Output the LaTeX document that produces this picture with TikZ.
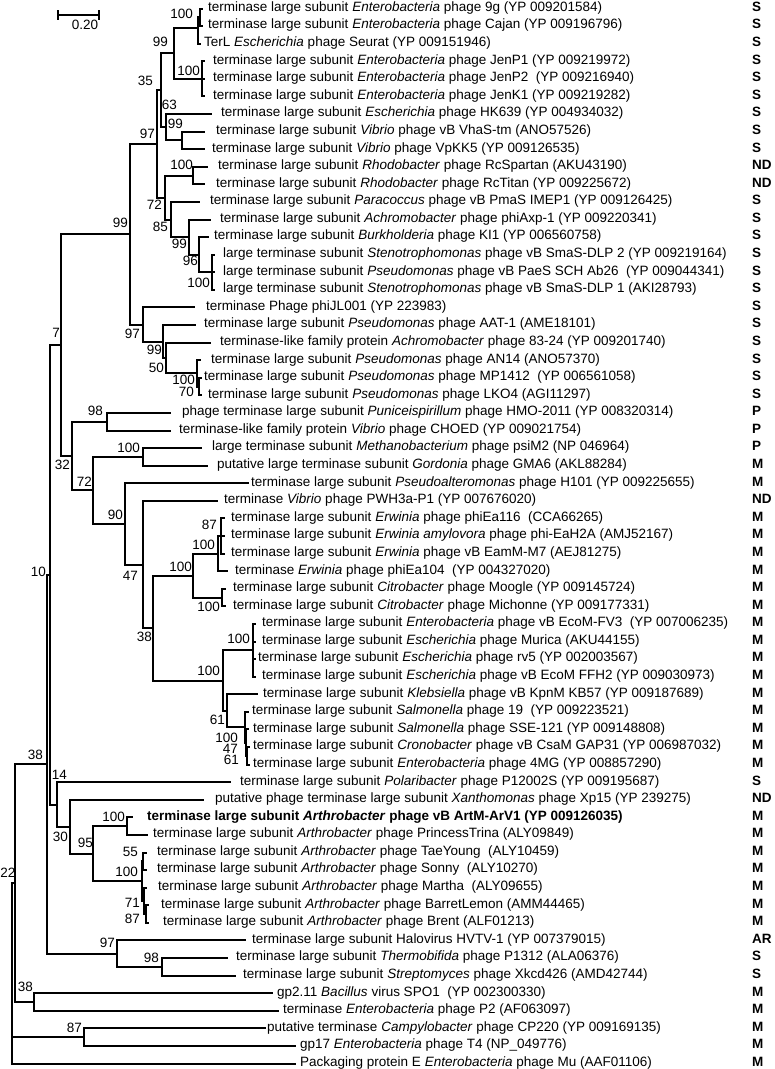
\documentclass[tikz,border=0pt]{standalone}
\usepackage{fontspec}
\setmainfont{Liberation Sans}
\newcommand\treefont{\fontsize{13.5}{16}\selectfont}
\begin{document}
\begin{tikzpicture}[x=1pt,y=-1pt,
  br/.style={line width=2pt,line cap=rect},
  lf/.style={anchor=base west,inner sep=0pt,yshift=-2.8pt,font=\treefont},
  cl/.style={anchor=base west,inner sep=0pt,yshift=-2.8pt,font=\treefont\bfseries},
  bs/.style={anchor=base east,inner sep=0pt,yshift=-4.8pt,font=\treefont}]
\useasboundingbox (0,0) rectangle (775,1069);
% scale bar
\coordinate (sbA) at (58,15);
\coordinate (sbB) at (99,15);
\draw[br] (sbA) -- (sbB);
\draw[br] ([yshift=4pt]sbA) -- ([yshift=-4pt]sbA);
\draw[br] ([yshift=4pt]sbB) -- ([yshift=-4pt]sbB);
\node[font=\treefont,inner sep=0pt,anchor=base,yshift=-4.8pt] (sbl) at (85,25) {0.20};
% leaf tips
\foreach \n/\x/\y in {1/202/8.5,2/202/26.1,3/199.5/43.7,4/204/61.2,5/204/78.8,6/204/96.4,7/211/114.0,8/204/131.6,9/204/149.2,10/207/166.7,11/204/184.3,12/199/201.9,13/210/219.5,14/208/237.1,15/214/254.7,16/214/272.2,17/214/289.8,18/194/307.4,19/195/325.0,20/210/342.6,21/199.5/360.2,22/200.5/377.7,23/200.5/395.3,24/170/412.9,25/170/430.5,26/201/448.1,27/207/465.7,28/248/483.2,29/217/500.8,30/224/518.4}
  \coordinate (L\n) at (\x,\y);
\foreach \n/\x/\y in {31/224/536.0,32/224/553.6,33/227/571.2,34/225/588.7,35/225/606.3,36/255/623.9,37/255/641.5,38/255/659.1,39/255/676.7,40/257/694.2,41/248/711.8,42/248/729.4,43/249/747.0,44/249/764.6,45/230/782.2,46/203/799.7,47/132/817.3,48/147/834.9,49/145.5/852.5,50/145.5/870.1,51/145.5/887.7,52/148/905.2,53/148/922.8,54/245/940.4,55/227/958.0,56/235/975.6,57/272/993.2,58/278/1010.7,59/265/1028.3,60/295/1045.9,61/295/1063.5}
  \coordinate (L\n) at (\x,\y);
% internal nodes
\foreach \n/\x/\y in {a1/199.5/17.3,a2/197.5/27.5,a3/202/78.8,a4/174/53.2,a5/182/140.4,a6/166/127.2,a7/161/90.2,a8/193/175.5,a9/212/272.2,a10/199/254.7,a11/189/237.1,a12/171/219.5,a13/164.5/197.5,a14/157/143.9,
  b1/198.5/386.5,b2/197/373.4,b3/166/358.0,b4/163/341.5,b5/143/324.5,b6/130/234.2,c1/107/421.7,c2/143/456.9,
  d1/221/536.0,d2/218/553.6,d3/222/597.5,d4/193/575.6,d5/253/650.3,d6/247/755.8,d7/246/742.6,d8/245/727.2,d9/227/710.7,d10/223/680.5,d11/153/628.1,d12/143/564.5,d13/125/523.9,d14/93/490.4,d15/72/456.1,d16/61/345.2,
  e1/127/826.1,e2/143/861.3,e3/146/914.0,e4/143.5/900.9,e5/141.5/881.1,e6/93/853.6,e7/70/826.7,e8/57/804.5,e9/50/574.9,
  f1/162/966.8,f2/117/953.6,g1/47/764.3,g2/34/1002.0,g3/15/883.2,g4/84/1037.1,r/12/883.2}
  \coordinate (\n) at (\x,\y);
% branches
\foreach \p/\c in {a1/L1,a1/L2,a2/a1,a2/L3,a3/L4,a3/L5,a3/L6,a4/a2,a4/a3,a5/L8,a5/L9,a6/L7,a6/a5,a7/a4,a7/a6,a8/L10,a8/L11,a9/L15,a9/L16,a9/L17,a10/L14,a10/a9,a11/L13,a11/a10,a12/L12,a12/a11,a13/a8,a13/a12,a14/a7,a14/a13}
  \draw[br] (\p) |- (\c);
\foreach \p/\c in {b1/L22,b1/L23,b2/L21,b2/b1,b3/L20,b3/b2,b4/L19,b4/b3,b5/L18,b5/b4,b6/a14,b6/b5,c1/L24,c1/L25,c2/L26,c2/L27}
  \draw[br] (\p) |- (\c);
\foreach \p/\c in {d1/L30,d1/L31,d1/L32,d2/d1,d2/L33,d3/L34,d3/L35,d4/d2,d4/d3,d5/L36,d5/L37,d5/L38,d5/L39,d6/L43,d6/L44,d7/L42,d7/d6,d8/L41,d8/d7,d9/L40,d9/d8,d10/d5,d10/d9,d11/d4,d11/d10,d12/L29,d12/d11,d13/L28,d13/d12,d14/c2,d14/d13,d15/c1,d15/d14,d16/b6,d16/d15}
  \draw[br] (\p) |- (\c);
\foreach \p/\c in {e1/L47,e1/L48,e2/L49,e2/L50,e3/L52,e3/L53,e4/L51,e4/e3,e5/e2,e5/e4,e6/e1,e6/e5,e7/L46,e7/e6,e8/L45,e8/e7,e9/d16,e9/e8,f1/L55,f1/L56,f2/L54,f2/f1,g1/e9,g1/f2,g2/L57,g2/L58,g3/g1,g3/g2,g4/L59,g4/L60,r/g3,r/g4,r/L61}
  \draw[br] (\p) |- (\c);
% leaf labels
\node[lf] (t1) at (208,8.5) {terminase large subunit \textit{Enterobacteria} phage 9g (YP 009201584)};
\node[lf] (t2) at (208,26.1) {terminase large subunit \textit{Enterobacteria} phage Cajan (YP 009196796)};
\node[lf] (t3) at (204,43.7) {TerL \textit{Escherichia} phage Seurat (YP 009151946)};
\node[lf] (t4) at (213,61.2) {terminase large subunit \textit{Enterobacteria} phage JenP1 (YP 009219972)};
\node[lf] (t5) at (213,78.8) {terminase large subunit \textit{Enterobacteria} phage JenP2~ (YP 009216940)};
\node[lf] (t6) at (213,96.4) {terminase large subunit \textit{Enterobacteria} phage JenK1 (YP 009219282)};
\node[lf] (t7) at (221,114.0) {terminase large subunit \textit{Escherichia} phage HK639 (YP 004934032)};
\node[lf] (t8) at (216,131.6) {terminase large subunit \textit{Vibrio} phage vB VhaS-tm (ANO57526)};
\node[lf] (t9) at (212,149.2) {terminase large subunit \textit{Vibrio} phage VpKK5 (YP 009126535)};
\node[lf] (t10) at (218,166.7) {terminase large subunit \textit{Rhodobacter} phage RcSpartan (AKU43190)};
\node[lf] (t11) at (216,184.3) {terminase large subunit \textit{Rhodobacter} phage RcTitan (YP 009225672)};
\node[lf] (t12) at (210,201.9) {terminase large subunit \textit{Paracoccus} phage vB PmaS IMEP1 (YP 009126425)};
\node[lf] (t13) at (220,219.5) {terminase large subunit \textit{Achromobacter} phage phiAxp-1 (YP 009220341)};
\node[lf] (t14) at (214,237.1) {terminase large subunit \textit{Burkholderia} phage KI1 (YP 006560758)};
\node[lf] (t15) at (223,254.7) {large terminase subunit \textit{Stenotrophomonas} phage vB SmaS-DLP 2 (YP 009219164)};
\node[lf] (t16) at (223,272.2) {large terminase subunit \textit{Pseudomonas} phage vB PaeS SCH Ab26~ (YP 009044341)};
\node[lf] (t17) at (223,289.8) {large terminase subunit \textit{Stenotrophomonas} phage vB SmaS-DLP 1 (AKI28793)};
\node[lf] (t18) at (206,307.4) {terminase Phage phiJL001 (YP 223983)};
\node[lf] (t19) at (204,325.0) {terminase large subunit \textit{Pseudomonas} phage AAT-1 (AME18101)};
\node[lf] (t20) at (220,342.6) {terminase-like family protein \textit{Achromobacter} phage 83-24 (YP 009201740)};
\node[lf] (t21) at (211,360.2) {terminase large subunit \textit{Pseudomonas} phage AN14 (ANO57370)};
\node[lf] (t22) at (204,377.7) {terminase large subunit \textit{Pseudomonas} phage MP1412~ (YP 006561058)};
\node[lf] (t23) at (208,395.3) {terminase large subunit \textit{Pseudomonas} phage LKO4 (AGI11297)};
\node[lf] (t24) at (182,412.9) {phage terminase large subunit \textit{Puniceispirillum} phage HMO-2011 (YP 008320314)};
\node[lf] (t25) at (179,430.5) {terminase-like family protein \textit{Vibrio} phage CHOED (YP 009021754)};
\node[lf] (t26) at (212,448.1) {large terminase subunit \textit{Methanobacterium} phage psiM2 (NP 046964)};
\node[lf] (t27) at (217,465.7) {putative large terminase subunit \textit{Gordonia} phage GMA6 (AKL88284)};
\node[lf] (t28) at (251,483.2) {terminase large subunit \textit{Pseudoalteromonas} phage H101 (YP 009225655)};
\node[lf] (t29) at (224,500.8) {terminase \textit{Vibrio} phage PWH3a-P1 (YP 007676020)};
\node[lf] (t30) at (231,518.4) {terminase large subunit \textit{Erwinia} phage phiEa116~ (CCA66265)};
\node[lf] (t31) at (231,536.0) {terminase large subunit \textit{Erwinia amylovora} phage phi-EaH2A (AMJ52167)};
\node[lf] (t32) at (231,553.6) {terminase large subunit \textit{Erwinia} phage vB EamM-M7 (AEJ81275)};
\node[lf] (t33) at (235,571.2) {terminase \textit{Erwinia} phage phiEa104~ (YP 004327020)};
\node[lf] (t34) at (233,588.7) {terminase large subunit \textit{Citrobacter} phage Moogle (YP 009145724)};
\node[lf] (t35) at (233,606.3) {terminase large subunit \textit{Citrobacter} phage Michonne (YP 009177331)};
\node[lf] (t36) at (262,623.9) {terminase large subunit \textit{Enterobacteria} phage vB EcoM-FV3~ (YP 007006235)};
\node[lf] (t37) at (262,641.5) {terminase large subunit \textit{Escherichia} phage Murica (AKU44155)};
\node[lf] (t38) at (258,659.1) {terminase large subunit \textit{Escherichia} phage rv5 (YP 002003567)};
\node[lf] (t39) at (262,676.7) {terminase large subunit \textit{Escherichia} phage vB EcoM FFH2 (YP 009030973)};
\node[lf] (t40) at (263,694.2) {terminase large subunit \textit{Klebsiella} phage vB KpnM KB57 (YP 009187689)};
\node[lf] (t41) at (252,711.8) {terminase large subunit \textit{Salmonella} phage 19~ (YP 009223521)};
\node[lf] (t42) at (253,729.4) {terminase large subunit \textit{Salmonella} phage SSE-121 (YP 009148808)};
\node[lf] (t43) at (253,747.0) {terminase large subunit \textit{Cronobacter} phage vB CsaM GAP31 (YP 006987032)};
\node[lf] (t44) at (253,764.6) {terminase large subunit \textit{Enterobacteria} phage 4MG (YP 008857290)};
\node[lf] (t45) at (240,782.2) {terminase large subunit \textit{Polaribacter} phage P12002S (YP 009195687)};
\node[lf] (t46) at (215,799.7) {putative phage terminase large subunit \textit{Xanthomonas} phage Xp15 (YP 239275)};
\node[lf] (t47) at (147,817.3) {\bfseries terminase large subunit \textit{Arthrobacter} phage vB ArtM-ArV1 (YP 009126035)};
\node[lf] (t48) at (153,834.9) {terminase large subunit \textit{Arthrobacter} phage PrincessTrina (ALY09849)};
\node[lf] (t49) at (157,852.5) {terminase large subunit \textit{Arthrobacter} phage TaeYoung~ (ALY10459)};
\node[lf] (t50) at (157,870.1) {terminase large subunit \textit{Arthrobacter} phage Sonny~ (ALY10270)};
\node[lf] (t51) at (158,887.7) {terminase large subunit \textit{Arthrobacter} phage Martha~ (ALY09655)};
\node[lf] (t52) at (161,905.2) {terminase large subunit \textit{Arthrobacter} phage BarretLemon (AMM44465)};
\node[lf] (t53) at (163,922.8) {terminase large subunit \textit{Arthrobacter} phage Brent (ALF01213)};
\node[lf] (t54) at (252,940.4) {terminase large subunit Halovirus HVTV-1 (YP 007379015)};
\node[lf] (t55) at (236,958.0) {terminase large subunit \textit{Thermobifida} phage P1312 (ALA06376)};
\node[lf] (t56) at (243,975.6) {terminase large subunit \textit{Streptomyces} phage Xkcd426 (AMD42744)};
\node[lf] (t57) at (277,993.2) {gp2.11 \textit{Bacillus} virus SPO1~ (YP 002300330)};
\node[lf] (t58) at (283,1010.7) {terminase \textit{Enterobacteria} phage P2 (AF063097)};
\node[lf] (t59) at (267,1028.3) {putative terminase \textit{Campylobacter} phage CP220 (YP 009169135)};
\node[lf] (t60) at (300,1045.9) {gp17 \textit{Enterobacteria} phage T4 (NP\_049776)};
\node[lf] (t61) at (300,1063.5) {Packaging protein E \textit{Enterobacteria} phage Mu (AAF01106)};
% morphology column
\foreach \n/\y/\s in {1/8.5/S,2/26.1/S,3/43.7/S,4/61.2/S,5/78.8/S,6/96.4/S,7/114.0/S,8/131.6/S,9/149.2/S,10/166.7/ND,11/184.3/ND,12/201.9/S,13/219.5/S,14/237.1/S,15/254.7/S,16/272.2/S,17/289.8/S,18/307.4/S,19/325.0/S,20/342.6/S,21/360.2/S,22/377.7/S,23/395.3/S,24/412.9/P,25/430.5/P,26/448.1/P,27/465.7/M,28/483.2/M,29/500.8/ND,30/518.4/M}
  \node[cl] (k\n) at (752,\y) {\s};
\foreach \n/\y/\s in {31/536.0/M,32/553.6/M,33/571.2/M,34/588.7/M,35/606.3/M,36/623.9/M,37/641.5/M,38/659.1/M,39/676.7/M,40/694.2/M,41/711.8/M,42/729.4/M,43/747.0/M,44/764.6/M,45/782.2/S,46/799.7/ND,47/817.3/M,48/834.9/M,49/852.5/M,50/870.1/M,51/887.7/M,52/905.2/M,53/922.8/M,54/940.4/AR,55/958.0/S,56/975.6/S,57/993.2/M,58/1010.7/M,59/1028.3/M,60/1045.9/M,61/1063.5/M}
  \node[cl] (k\n) at (752,\y) {\s};
% bootstrap values
\foreach \n/\x/\y/\v in {1/193/14/100,2/168/42/99,3/200/71/100,4/153/81/35,5/177/105/63,6/183/124/99,7/155/134/97,8/193/165/100,9/162/205/72,10/168/227/85,11/187/244/99,12/198/261/96,13/210/283/100,14/128/223/99,15/140/334/97,16/60/333/7,17/162/350/99,18/164/368/50,19/195/380/100,20/194/392/70,21/103/411/98,22/140/448/100,23/70/465/32,24/92/482/72,25/123/515/90,26/217/525/87,27/215/545/100,28/192/567/100}
  \node[bs] (bs\n) at (\x,\y) {\v};
\foreach \n/\x/\y/\v in {29/46/572/10,30/138/576/47,31/220/607/100,32/152/637/38,33/250/639/100,34/220/671/100,35/225/720/61,36/238/738/100,37/238/749/47,38/239/760/61,39/43/755/38,40/67/775/14,41/125/817/100,42/68/837/30,43/93/843/95,44/138/852/55,45/138/872/100,46/15.5/873/22,47/140/903/71,48/140/919/87,49/115/943/97,50/159/958/98,51/33/987/38,52/82/1028/87}
  \node[bs] (bs\n) at (\x,\y) {\v};
\end{tikzpicture}
\end{document}
